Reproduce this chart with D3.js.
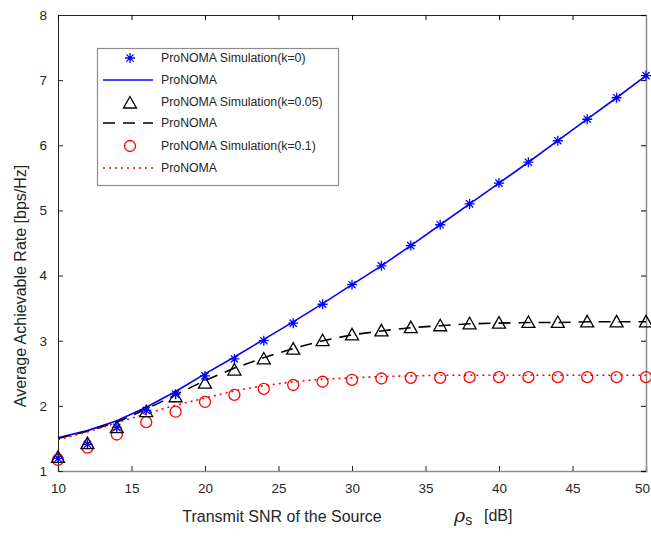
<!DOCTYPE html>
<head>
  <meta charset="utf-8">
  <script src="https://d3js.org/d3.v7.min.js"></script>
  <style>
  body { margin: 0; background: #fff; }
  text { font-family: "Liberation Sans", Arial, sans-serif; fill: #262626; }
</style>
</head>
<body>
<svg width="651" height="538"></svg>

<script type="text/javascript">
// SNR grid (dB)
var snr = [10, 12, 14, 16, 18, 20, 22, 24, 26, 28, 30, 32, 34, 36, 38, 40, 42, 44, 46, 48, 50];

// k = 0
var simK0 = [1.195, 1.41, 1.67, 1.93, 2.18, 2.46, 2.72, 3.00, 3.27, 3.56, 3.86, 4.15, 4.46, 4.78, 5.10, 5.42, 5.74, 6.07, 6.40, 6.73, 7.07];
var anaK0 = [1.51, 1.62, 1.77, 1.98, 2.22, 2.49, 2.75, 3.02, 3.29, 3.57, 3.86, 4.15, 4.46, 4.78, 5.10, 5.42, 5.74, 6.07, 6.40, 6.73, 7.07];
// k = 0.05
var simK005 = [1.21, 1.42, 1.665, 1.91, 2.14, 2.35, 2.55, 2.72, 2.87, 3.00, 3.09, 3.15, 3.20, 3.23, 3.26, 3.27, 3.28, 3.28, 3.29, 3.29, 3.29];
var anaK005 = [1.50, 1.61, 1.75, 1.95, 2.17, 2.39, 2.58, 2.74, 2.88, 3.00, 3.09, 3.15, 3.20, 3.23, 3.26, 3.27, 3.28, 3.28, 3.29, 3.29, 3.29];
// k = 0.1
var simK01 = [1.17, 1.36, 1.56, 1.75, 1.91, 2.06, 2.17, 2.26, 2.32, 2.37, 2.40, 2.42, 2.43, 2.43, 2.44, 2.44, 2.44, 2.44, 2.44, 2.44, 2.44];
var anaK01 = [1.48, 1.60, 1.74, 1.88, 2.01, 2.12, 2.23, 2.31, 2.37, 2.41, 2.43, 2.45, 2.46, 2.47, 2.47, 2.47, 2.47, 2.47, 2.47, 2.47, 2.47];

var xTicks = [10, 15, 20, 25, 30, 35, 40, 45, 50];
var yTicks = [1, 2, 3, 4, 5, 6, 7, 8];

var legendLabels = [
  "ProNOMA Simulation(k=0)", "ProNOMA",
  "ProNOMA Simulation(k=0.05)", "ProNOMA",
  "ProNOMA Simulation(k=0.1)", "ProNOMA"
];

var svg = d3.select("svg");
// plot box edges (window.top is reserved, so use other names)
var padL = 58, padR = 646, padT = 15, padB = 471;

var x = d3.scaleLinear().domain([10, 50]).range([padL, padR]);
var y = d3.scaleLinear().domain([1, 8]).range([padB, padT]);

// axes box + inward ticks
svg.append("g").attr("transform", "translate(0," + padB + ")")
  .call(d3.axisBottom(x).tickValues(xTicks).tickSize(-5).tickPadding(12).tickFormat(d3.format("d")))
  .call(function(g) {
    g.select(".domain").attr("stroke", "#8c8c8c").attr("stroke-width", 1.5);
    g.selectAll(".tick line").attr("stroke", "#262626");
    g.selectAll(".tick text").filter(function(d) { return d === 50; }).attr("dx", -4);
  });
svg.append("g").attr("transform", "translate(" + padL + ",0)")
  .call(d3.axisLeft(y).tickValues(yTicks).tickSize(-5).tickPadding(11).tickFormat(d3.format("d")))
  .call(function(g) {
    g.select(".domain").attr("stroke", "#262626");
    g.selectAll(".tick line").attr("stroke", "#262626");
  });
svg.append("g").attr("transform", "translate(0," + padT + ")")
  .call(d3.axisTop(x).tickValues(xTicks).tickSize(-5).tickFormat(""))
  .call(function(g) { g.select(".domain").attr("stroke", "#262626"); });
svg.append("g").attr("transform", "translate(" + padR + ",0)")
  .call(d3.axisRight(y).tickValues(yTicks).tickSize(-5).tickFormat(""))
  .call(function(g) {
    g.select(".domain").attr("stroke", "#8c8c8c").attr("stroke-width", 1.5);
  });
svg.selectAll(".tick text")
  .attr("fill", "#262626")
  .style("font-family", "'Liberation Sans', Arial, sans-serif")
  .style("font-size", "13.5px");

// axis labels
svg.append("text")
  .attr("transform", "translate(26,286) rotate(-90)")
  .attr("text-anchor", "middle")
  .style("font-size", "16px")
  .text("Average Achievable Rate [bps/Hz]");
svg.append("text")
  .attr("x", 282).attr("y", 522)
  .attr("text-anchor", "middle")
  .style("font-size", "16px")
  .text("Transmit SNR of the Source");
var rho = svg.append("text").attr("x", 454).attr("y", 522).style("font-size", "19px");
rho.append("tspan").style("font-family", "DejaVu Serif").style("font-style", "italic").text("\u03C1");
rho.append("tspan").attr("dy", 3).style("font-size", "14px").text("s");
svg.append("text").attr("x", 484).attr("y", 521).style("font-size", "16px").text("[dB]");

// marker shapes
function star(g, cx, cy, r) {
  var p = "M" + cx + "," + (cy - r) + "V" + (cy + r) +
          "M" + (cx - r) + "," + cy + "H" + (cx + r);
  var d = r * 0.72;
  p += "M" + (cx - d) + "," + (cy - d) + "L" + (cx + d) + "," + (cy + d) +
       "M" + (cx - d) + "," + (cy + d) + "L" + (cx + d) + "," + (cy - d);
  g.append("path").attr("d", p).attr("stroke", "#0000ff").attr("stroke-width", 1.3).attr("fill", "none");
}
function tri(g, cx, cy) {
  g.append("path")
    .attr("d", "M" + cx + "," + (cy - 6.5) + "L" + (cx + 6.5) + "," + (cy + 5) + "L" + (cx - 6.5) + "," + (cy + 5) + "Z")
    .attr("fill", "none").attr("stroke", "#000").attr("stroke-width", 1.3);
}
function circ(g, cx, cy) {
  g.append("circle").attr("cx", cx).attr("cy", cy).attr("r", 5.5)
    .attr("fill", "none").attr("stroke", "#ff0000").attr("stroke-width", 1.3);
}

var line = d3.line().x(function(d) { return x(d[0]); }).y(function(d) { return y(d[1]); });
var plot = svg.append("g");

function zipXY(vals) { return snr.map(function(s, i) { return [s, vals[i]]; }); }

plot.append("path").attr("d", line(zipXY(anaK0)))
  .attr("fill", "none").attr("stroke", "#0000ff").attr("stroke-width", 1.6);
plot.append("path").attr("d", line(zipXY(anaK005)))
  .attr("fill", "none").attr("stroke", "#000").attr("stroke-width", 1.6).attr("stroke-dasharray", "12,8");
plot.append("path").attr("d", line(zipXY(anaK01)))
  .attr("fill", "none").attr("stroke", "#ff0000").attr("stroke-width", 1.6).attr("stroke-dasharray", "2,4");

snr.forEach(function(s, i) { circ(plot, x(s), y(simK01[i])); });
snr.forEach(function(s, i) { tri(plot, x(s), y(simK005[i])); });
snr.forEach(function(s, i) { star(plot, x(s), y(simK0[i]), 5); });

// legend
var lg = svg.append("g");
lg.append("rect").attr("x", 97.5).attr("y", 48.5).attr("width", 241).attr("height", 137)
  .attr("fill", "#fff").attr("stroke", "#8c8c8c").attr("stroke-width", 1.2);
var rowY = [58, 80, 102, 123, 146, 168];
star(lg, 130, rowY[0], 5);
lg.append("line").attr("x1", 103).attr("x2", 153).attr("y1", rowY[1]).attr("y2", rowY[1])
  .attr("stroke", "#0000ff").attr("stroke-width", 1.6);
tri(lg, 130, rowY[2] + 1);
lg.append("line").attr("x1", 103).attr("x2", 153).attr("y1", rowY[3]).attr("y2", rowY[3])
  .attr("stroke", "#000").attr("stroke-width", 1.6).attr("stroke-dasharray", "12,8");
circ(lg, 130, rowY[4]);
lg.append("line").attr("x1", 103).attr("x2", 153).attr("y1", rowY[5]).attr("y2", rowY[5])
  .attr("stroke", "#ff0000").attr("stroke-width", 1.6).attr("stroke-dasharray", "2,4");
legendLabels.forEach(function(t, i) {
  lg.append("text").attr("x", 161).attr("y", rowY[i] + 4).style("font-size", "12.3px").text(t);
});
</script>

</body>
</html>
